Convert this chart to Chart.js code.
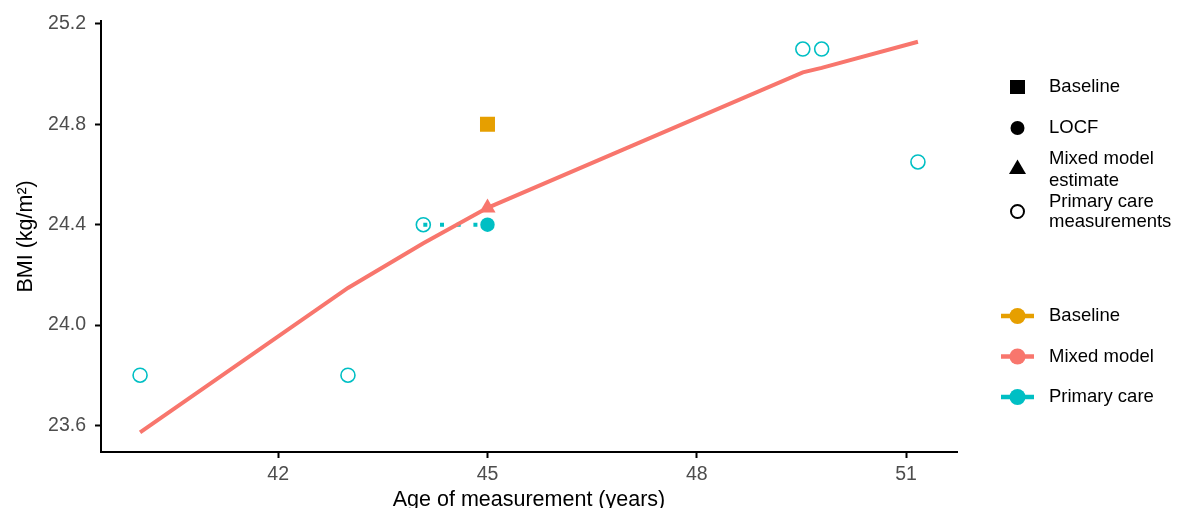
<!DOCTYPE html>
<html>
<head>
<meta charset="utf-8">
<title>BMI by age of measurement</title>
<script src="https://cdn.jsdelivr.net/npm/chart.js@4/dist/chart.umd.min.js"></script>
<style>
  html, body { margin: 0; padding: 0; background: #ffffff; overflow: hidden; }
  #wrap { width: 1177px; height: 508px; position: relative; }
</style>
</head>
<body>
<div id="wrap"><canvas id="bmiChart" width="1177" height="508"></canvas></div>
<script>
// Primary care measurements (age in years, BMI in kg/m²)
const primaryAges = [40.02, 43.0, 44.08, 49.52, 49.79, 51.17];
const primaryBmi  = [23.8, 23.8, 24.4, 25.1, 25.1, 24.65];

// Mixed model fitted trajectory
const modelAges = [40.02, 43.0, 44.08, 45.0, 49.52, 49.79, 51.17];
const modelBmi  = [23.572, 24.148, 24.326, 24.467, 25.007, 25.025, 25.129];

// Values at the index age of 45
const indexAge = 45.0;
const baselineBmi = 24.8;
const locfBmi = 24.4;
const mixedEstimateBmi = 24.467;
const lastObservedAge = 44.08;

// Axis ticks
const xTicks = [42, 45, 48, 51];
const yTicks = [23.6, 24.0, 24.4, 24.8, 25.2];

// Legend texts
const shapeLegendLabels = [['Baseline'], ['LOCF'], ['Mixed model', 'estimate'], ['Primary care', 'measurements']];
const seriesLegendLabels = ['Baseline', 'Mixed model', 'Primary care'];

const COL_BASE = '#E69F00';
const COL_MODEL = '#F8766D';
const COL_PRIMARY = '#00BFC4';
const FAMILY = "'Liberation Sans', Arial, Helvetica, sans-serif";

const toPoints = (xs, ys) => xs.map((x, i) => ({ x: x, y: ys[i] }));

const sideLegend = {
  id: 'sideLegend',
  afterDraw(chart) {
    const ctx = chart.ctx;
    ctx.save();
    ctx.font = '18.5px ' + FAMILY;
    ctx.fillStyle = '#000';
    ctx.textBaseline = 'middle';
    ctx.textAlign = 'left';
    const keyX = 1017.5, textX = 1049;

    // shape key
    const shapeRows = [87, 128, 167, 211.5];
    const lineRows = [[87], [127.5], [159, 180.5], [201.5, 222]];
    ctx.fillStyle = '#000';
    // square
    ctx.fillRect(keyX - 7.5, shapeRows[0] - 7, 15, 14);
    // filled circle
    ctx.beginPath(); ctx.arc(keyX, shapeRows[1], 7, 0, Math.PI * 2); ctx.fill();
    // triangle
    ctx.beginPath();
    ctx.moveTo(keyX, shapeRows[2] - 7.5);
    ctx.lineTo(keyX + 8.5, shapeRows[2] + 7);
    ctx.lineTo(keyX - 8.5, shapeRows[2] + 7);
    ctx.closePath(); ctx.fill();
    // open circle
    ctx.strokeStyle = '#000'; ctx.lineWidth = 2;
    ctx.beginPath(); ctx.arc(keyX, shapeRows[3], 6.5, 0, Math.PI * 2); ctx.stroke();

    shapeLegendLabels.forEach((lines, i) => {
      lines.forEach((t, j) => ctx.fillText(t, textX, lineRows[i][j]));
    });

    // colour key
    const colours = [COL_BASE, COL_MODEL, COL_PRIMARY];
    const rows = [316, 356.5, 397];
    seriesLegendLabels.forEach((t, i) => {
      ctx.strokeStyle = colours[i];
      ctx.fillStyle = colours[i];
      ctx.lineWidth = 4.5;
      ctx.beginPath(); ctx.moveTo(1001, rows[i]); ctx.lineTo(1034, rows[i]); ctx.stroke();
      ctx.beginPath(); ctx.arc(keyX, rows[i], 8, 0, Math.PI * 2); ctx.fill();
      ctx.fillStyle = '#000';
      ctx.fillText(t, textX, rows[i]);
    });
    ctx.restore();
  }
};

new Chart(document.getElementById('bmiChart'), {
  type: 'scatter',
  data: {
    datasets: [
      {
        label: 'Baseline',
        data: [{ x: indexAge, y: baselineBmi }],
        pointStyle: 'rect', pointRadius: 10.6, pointBorderWidth: 0,
        backgroundColor: COL_BASE, borderColor: COL_BASE, order: 1
      },
      {
        label: 'Mixed model estimate',
        data: [{ x: indexAge, y: mixedEstimateBmi }],
        pointStyle: 'triangle', pointRadius: 9.3, pointBorderWidth: 0,
        backgroundColor: COL_MODEL, borderColor: COL_MODEL, order: 2
      },
      {
        label: 'Mixed model',
        type: 'line',
        data: toPoints(modelAges, modelBmi),
        borderColor: COL_MODEL, borderWidth: 4, pointRadius: 0,
        tension: 0, fill: false, order: 3
      },
      {
        label: 'LOCF',
        data: [{ x: indexAge, y: locfBmi }],
        pointStyle: 'circle', pointRadius: 7.2, pointBorderWidth: 0,
        backgroundColor: COL_PRIMARY, borderColor: COL_PRIMARY, order: 4
      },
      {
        label: 'LOCF carry-forward',
        type: 'line',
        data: [{ x: lastObservedAge, y: locfBmi }, { x: indexAge, y: locfBmi }],
        borderColor: COL_PRIMARY, borderWidth: 4, borderDash: [4, 12.7],
        borderCapStyle: 'butt', pointRadius: 0, fill: false, order: 5
      },
      {
        label: 'Primary care measurements',
        data: toPoints(primaryAges, primaryBmi),
        pointStyle: 'circle', pointRadius: 7, pointBorderWidth: 1.6,
        backgroundColor: 'rgba(0,0,0,0)', borderColor: COL_PRIMARY, order: 6
      }
    ]
  },
  options: {
    responsive: false,
    animation: false,
    events: [],
    layout: { padding: { left: 0, right: 220, top: 20.7, bottom: 0 } },
    plugins: { legend: { display: false }, tooltip: { enabled: false } },
    scales: {
      x: {
        type: 'linear', min: 39.46, max: 51.73,
        afterBuildTicks: (s) => { s.ticks = xTicks.map(v => ({ value: v })); },
        afterFit: (s) => { s.height = 56; },
        grid: { drawOnChartArea: false, drawTicks: true, tickLength: 6, tickWidth: 2, tickColor: '#000' },
        border: { display: true, color: '#000', width: 2 },
        ticks: { color: '#4d4d4d', font: { family: FAMILY, size: 19.5 }, padding: 5, maxRotation: 0,
                 callback: (v) => String(v) },
        title: { display: true, text: 'Age of measurement (years)', color: '#000',
                 font: { family: FAMILY, size: 21.5 }, padding: { top: 0, bottom: -5 } }
      },
      y: {
        type: 'linear', min: 23.494, max: 25.213,
        afterBuildTicks: (s) => { s.ticks = yTicks.map(v => ({ value: v })); },
        afterFit: (s) => { s.width = 101; },
        grid: { drawOnChartArea: false, drawTicks: true, tickLength: 6, tickWidth: 2, tickColor: '#000' },
        border: { display: true, color: '#000', width: 2 },
        ticks: { color: '#4d4d4d', font: { family: FAMILY, size: 19.5 }, padding: 9,
                 callback: (v) => Number(v).toFixed(1) },
        title: { display: true, text: 'BMI (kg/m²)', color: '#000',
                 font: { family: FAMILY, size: 21.5 }, padding: { top: 13, bottom: 0 } }
      }
    }
  },
  plugins: [sideLegend]
});
</script>
</body>
</html>
